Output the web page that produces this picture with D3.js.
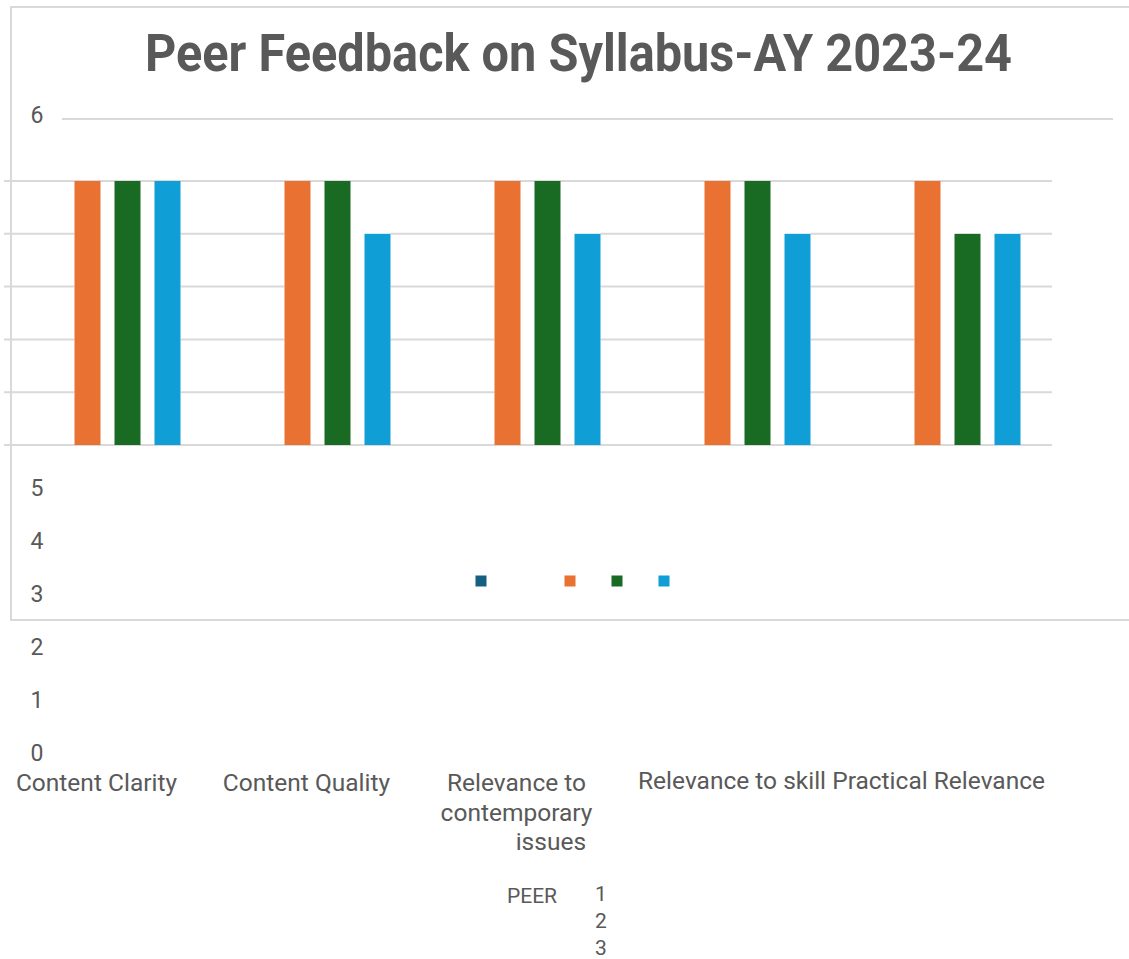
<!DOCTYPE html>
<html>
<head>
<meta charset="utf-8">
<script src="https://cdn.jsdelivr.net/npm/d3@7"></script>
<style>
  html, body { margin: 0; padding: 0; background: #fff; }
  svg { display: block; }
  text { font-family: Roboto, "Open Sans", sans-serif; fill: #595959; }
</style>
</head>
<body>
<svg id="chart" width="1129" height="959"></svg>
<script>
// chart data
const categories = ['Content Clarity', 'Content Quality', 'Relevance to contemporary issues', 'Relevance to skill', 'Practical Relevance'];
const tickLabels = [['Content Clarity'], ['Content Quality'], ['Relevance to', 'contemporary', 'issues'], ['Relevance to skill'], ['Practical Relevance']];
const seriesNames = ['1', '2', '3'];
const peer1 = [5, 5, 5, 5, 5];
const peer2 = [5, 5, 5, 5, 4];
const peer3 = [5, 4, 4, 4, 4];
const yTicks = [0, 1, 2, 3, 4, 5, 6];
const legendNames = ['PEER', '1', '2', '3'];
const colors = ['#156082', '#E97132', '#196B24', '#0F9ED5'];
const titleText = 'Peer Feedback on Syllabus-AY 2023-24';

const seriesValues = [peer1, peer2, peer3];

const svg = d3.select('#chart');
const grid = '#d9d9d9';

// outer chart frame
svg.append('rect')
    .attr('x', 11).attr('y', 7)
    .attr('width', 1140).attr('height', 613)
    .attr('fill', 'none')
    .attr('stroke', grid)
    .attr('stroke-width', 2);

// title
svg.append('text')
    .attr('x', 145).attr('y', 71)
    .attr('textLength', 867)
    .attr('lengthAdjust', 'spacingAndGlyphs')
    .style('font-size', '51px')
    .style('font-weight', 'bold')
    .text(titleText);

// scales
const x = d3.scaleBand()
    .domain(categories)
    .range([22.5, 1072.5]);

const xInner = d3.scaleBand()
    .domain(seriesNames)
    .range([-53, 53])
    .paddingInner(0.35);

const y = d3.scaleLinear()
    .domain([0, 5])
    .range([445, 181]);

// label positions for the value ticks (drawn apart from the bars)
const yLabel = d3.scaleLinear()
    .domain([0, 5])
    .range([761, 496]);

// top lone gridline with "6"
svg.append('line')
    .attr('x1', 62).attr('x2', 1113)
    .attr('y1', 119).attr('y2', 119)
    .attr('stroke', grid).attr('stroke-width', 2);

// gridlines in bar area
svg.append('g')
    .selectAll('line')
    .data(y.ticks(5))
    .enter().append('line')
    .attr('x1', 4).attr('x2', 1052)
    .attr('y1', d => y(d)).attr('y2', d => y(d))
    .attr('stroke', grid)
    .attr('stroke-width', 2);

// white block behind each group hides gridlines between bars
const groups = svg.append('g')
    .selectAll('g')
    .data(categories)
    .enter().append('g')
    .attr('transform', d => `translate(${x(d) + x.bandwidth() / 2},0)`);

groups.append('rect')
    .attr('x', xInner(seriesNames[0]))
    .attr('y', y(5) + 2)
    .attr('width', xInner.range()[1] - xInner.range()[0])
    .attr('height', y(0) - y(5) - 3)
    .attr('fill', '#fff');

groups.selectAll('.bar')
    .data((d, i) => seriesNames.map((s, j) => ({series: s, value: seriesValues[j][i], color: colors[j + 1]})))
    .enter().append('rect')
    .attr('class', 'bar')
    .attr('x', d => xInner(d.series))
    .attr('y', d => y(d.value))
    .attr('width', xInner.bandwidth())
    .attr('height', d => y(0) - y(d.value))
    .attr('fill', d => d.color);

// value tick labels
svg.append('g')
    .selectAll('text')
    .data(yTicks)
    .enter().append('text')
    .attr('x', 37)
    .attr('y', d => d === 6 ? 123 : yLabel(d))
    .attr('text-anchor', 'middle')
    .style('font-size', '23px')
    .text(d => d);

// category labels
const catG = svg.append('g').style('font-size', '24.5px');
tickLabels.forEach((lines, i) => {
    const cx = x(categories[i]) + x.bandwidth() / 2 - 31;
    if (i < 3) {
        let firstWidth = 0;
        lines.forEach((line, k) => {
            const t = catG.append('text')
                .attr('y', 791 + k * 29.5)
                .text(line);
            if (k === 0) firstWidth = t.node().getComputedTextLength();
            if (k > 0 && k === lines.length - 1) {
                t.attr('x', cx + firstWidth / 2).attr('text-anchor', 'end');
            } else {
                t.attr('x', cx).attr('text-anchor', 'middle');
            }
        });
    }
});
// last two labels run together on one line
const lastRow = catG.append('text').attr('x', 638).attr('y', 789);
lastRow.append('tspan').text(tickLabels[3][0]);
lastRow.append('tspan').text(' ' + tickLabels[4][0]);

// legend markers
const legendX = [481, 570, 617, 664];
svg.append('g')
    .selectAll('rect')
    .data(legendNames)
    .enter().append('rect')
    .attr('x', (d, i) => legendX[i] - 5.5)
    .attr('y', 575.5)
    .attr('width', 11).attr('height', 11)
    .attr('fill', (d, i) => colors[i]);

// legend texts, displaced below the chart
const legT = svg.append('g').style('font-size', '21px');
legT.append('text')
    .attr('x', 507).attr('y', 903)
    .text(legendNames[0]);
legT.selectAll('.num')
    .data(legendNames.slice(1))
    .enter().append('text')
    .attr('class', 'num')
    .attr('x', 601)
    .attr('y', (d, i) => 901 + i * 27)
    .attr('text-anchor', 'middle')
    .text(d => d);
</script>
</body>
</html>
